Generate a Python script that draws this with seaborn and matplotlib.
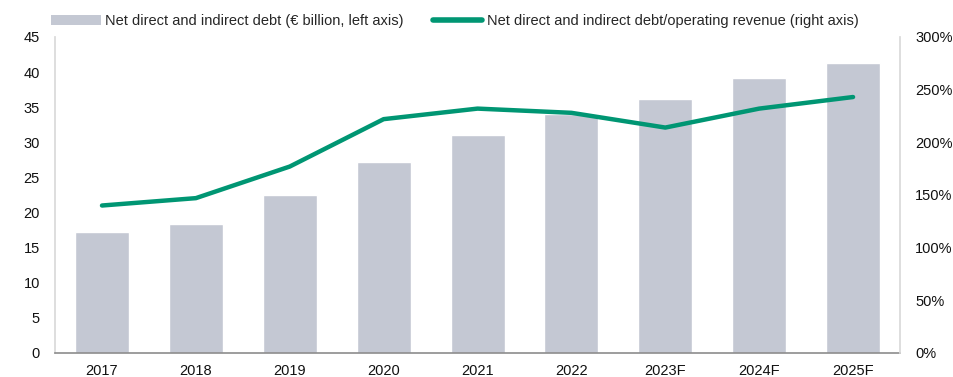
import matplotlib
matplotlib.use("Agg")
import matplotlib.pyplot as plt
import seaborn as sns
import pandas as pd
from matplotlib.ticker import FuncFormatter, MultipleLocator
from matplotlib.patches import Patch
from matplotlib.lines import Line2D

years = ["2017", "2018", "2019", "2020", "2021", "2022", "2023F", "2024F", "2025F"]
debt = [17.2, 18.3, 22.5, 27.2, 31.0, 34.0, 36.2, 39.2, 41.3]
ratio = [140, 147, 177, 222, 232, 228, 214, 232, 243]
bar_label = "Net direct and indirect debt (€ billion, left axis)"
line_label = "Net direct and indirect debt/operating revenue (right axis)"

bar_color = "#C4C8D3"
line_color = "#009673"

sns.set_theme(style="white")
plt.rcParams['font.family'] = ['Liberation Sans', 'DejaVu Sans']

df = pd.DataFrame({"year": years, "debt": debt, "ratio": ratio})

fig = plt.figure(figsize=(9.54, 3.77), dpi=100)
ax = fig.add_axes([0.0577, 0.0637, 0.8857, 0.8382])
sns.barplot(data=df, x="year", y="debt", color=bar_color, width=0.575,
            saturation=1, ax=ax)
ax.set_ylim(0, 45)
ax.yaxis.set_major_locator(MultipleLocator(5))
ax.set_xlabel("")
ax.set_ylabel("")

ax2 = ax.twinx()
sns.lineplot(data=df, x="year", y="ratio", color=line_color, linewidth=3.2,
             ax=ax2, sort=False)
ax2.set_ylim(0, 300)
ax2.yaxis.set_major_locator(MultipleLocator(50))
ax2.yaxis.set_major_formatter(FuncFormatter(lambda v, p: f"{v:.0f}%"))
ax2.set_ylabel("")
ax.set_xlim(-0.5, len(years) - 0.5)

for a in (ax, ax2):
    a.tick_params(axis="both", length=0, labelsize=10.5, colors="#111111")
    for s in a.spines.values():
        s.set_visible(False)
ax.tick_params(axis="y", pad=11)
ax2.tick_params(axis="y", pad=11)
ax.tick_params(axis="x", pad=8)

ax.spines["left"].set_visible(True)
ax.spines["left"].set_color("#D9D9D9")
ax.spines["bottom"].set_visible(True)
ax.spines["bottom"].set_color("#8C8C8C")
ax.spines["bottom"].set_linewidth(1.2)
ax2.spines["right"].set_visible(True)
ax2.spines["right"].set_color("#D9D9D9")

handles = [Patch(facecolor=bar_color, edgecolor="none"),
           Line2D([0], [0], color=line_color, linewidth=4)]
fig.legend(handles, [bar_label, line_label], ncol=2, frameon=False,
           loc="center left", bbox_to_anchor=(0.04, 0.945),
           prop={"size": 10.5},
           handlelength=3.4, handletextpad=0.3, columnspacing=2.0)

fig.savefig("out.png", dpi=100)
